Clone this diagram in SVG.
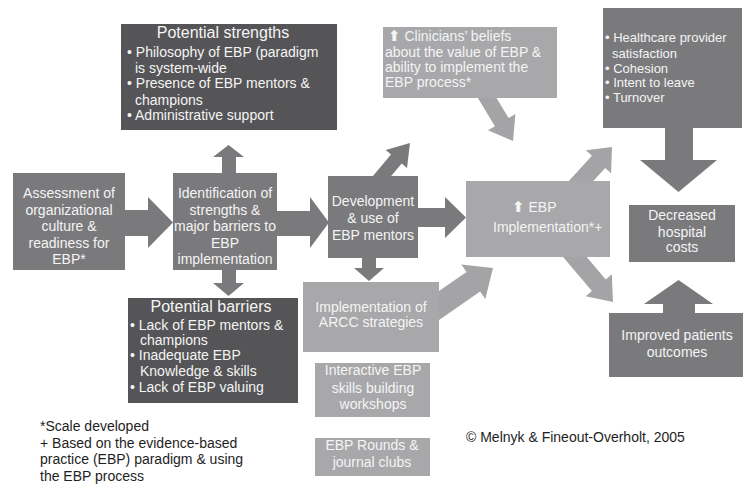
<svg xmlns="http://www.w3.org/2000/svg" width="743" height="486" viewBox="0 0 743 486">
<style>
  .dark{fill:#555557}
  .mid{fill:#7a7a7c}
  .light{fill:#a8a8aa}
  .amid{fill:#7a7a7c}
  .alight{fill:#a4a4a6}
  text{font-family:"Liberation Sans",Arial,sans-serif;font-size:14px;fill:#f4f4f4}
  .c{text-anchor:middle}
  .t{font-size:16px}
  .s{font-size:13px}
  .k{fill:#1e1e1e}
  .ic{font-family:"DejaVu Sans",sans-serif;font-size:15px;font-weight:bold}
</style>
<rect width="743" height="486" fill="#ffffff"/>
<g id="connectors">
  <polygon class="amid" points="120,210 148,210 148,197 173,222.5 148,248 148,236 120,236"/>
  <polygon class="amid" points="272,211 310,211 310,197 329,222.5 310,248 310,236 272,236"/>
  <polygon class="amid" points="222,178 222,157 213,157 228.5,145 244,157 236,157 236,178"/>
  <polygon class="amid" points="222,265 222,283 213,283 228.5,296 244,283 236,283 236,265"/>
  <polygon class="amid" points="414,208 445,208 445,197 466,217.5 445,238 445,227 414,227"/>
  <polygon class="amid" points="362,254 362,268 354,268 369,281 384,268 376,268 376,254"/>
  <polygon class="amid" points="665,125 665,160 640,160 678.5,192 717,160 693,160 693,125"/>
  <polygon class="amid" points="663,316 663,304 644,304 678.5,280 713,304 695,304 695,316"/>
  <polygon class="amid" points="382.3,186.6 401.7,163.5 407,168.1 410,143 385.7,149.9 391,154.4 371.7,177.5"/>
  <polygon class="alight" points="489.9,86.9 508.6,118 515.4,113.9 513,141 488,130.3 494.9,126.2 476.1,95.1"/>
  <polygon class="alight" points="430.9,325.7 480.1,291.5 485.3,298.9 493,268 461.3,264.5 466.5,271.9 417.3,306.1"/>
  <polygon class="alight" points="579.5,196 605.2,167.9 611.1,173.3 612,147 585.9,150.3 591.9,155.7 566.3,183.8"/>
  <polygon class="alight" points="573.4,241.2 605.7,279.4 611.8,274.2 613,302 585.8,296.2 591.9,291 559.6,252.9"/>
</g>
<g id="n-strengths">
  <rect class="dark" x="121" y="24" width="216" height="106"/>
  <text class="c t" x="223" y="38">Potential strengths</text>
  <text x="127" y="57">• Philosophy of EBP (paradigm</text>
  <text x="135" y="73">is system-wide</text>
  <text x="127" y="88">• Presence of EBP mentors &amp;</text>
  <text x="135" y="105">champions</text>
  <text x="127" y="120">• Administrative support</text>
</g>
<g id="n-barriers">
  <rect class="dark" x="128" y="298" width="170" height="105"/>
  <text class="c t" x="211" y="312">Potential barriers</text>
  <text x="130" y="330">• Lack of EBP mentors &amp;</text>
  <text x="140" y="345">champions</text>
  <text x="130" y="360">• Inadequate EBP</text>
  <text x="140" y="376">Knowledge &amp; skills</text>
  <text x="130" y="392">• Lack of EBP valuing</text>
</g>
<g id="n-assessment">
  <rect class="mid" x="13" y="173" width="112" height="97"/>
  <text class="c" x="69" y="198">Assessment of</text>
  <text class="c" x="69" y="215">organizational</text>
  <text class="c" x="69" y="231">culture &amp;</text>
  <text class="c" x="69" y="248">readiness for</text>
  <text class="c" x="69" y="264">EBP*</text>
</g>
<g id="n-identification">
  <rect class="mid" x="173" y="173" width="104" height="97"/>
  <text class="c" x="225" y="198">Identification of</text>
  <text class="c" x="225" y="215">strengths &amp;</text>
  <text class="c" x="225" y="231">major barriers to</text>
  <text class="c" x="225" y="248">EBP</text>
  <text class="c" x="225" y="264">implementation</text>
</g>
<g id="n-development">
  <rect class="mid" x="328" y="176" width="90" height="82"/>
  <text class="c" x="373" y="206">Development</text>
  <text class="c" x="373" y="223">&amp; use of</text>
  <text class="c" x="373" y="240">EBP mentors</text>
</g>
<g id="n-clinicians">
  <rect class="light" x="383" y="27" width="174" height="71"/>
  <text x="388" y="41"><tspan class="ic">⬆</tspan> Clinicians’ beliefs</text>
  <text x="385" y="57">about the value of EBP &amp;</text>
  <text x="385" y="72">ability to implement the</text>
  <text x="385" y="87">EBP process*</text>
</g>
<g id="n-implementation">
  <rect class="light" x="466" y="181" width="144" height="76"/>
  <text x="512" y="212"><tspan class="ic">⬆</tspan> EBP</text>
  <text x="493" y="232">Implementation*+</text>
</g>
<g id="n-arcc">
  <rect class="light" x="303" y="282" width="136" height="70"/>
  <text class="c" x="371" y="312">Implementation of</text>
  <text class="c" x="371" y="327">ARCC strategies</text>
</g>
<g id="n-workshops">
  <rect class="light" x="315" y="363" width="115" height="54"/>
  <text class="c" x="373" y="375">Interactive EBP</text>
  <text class="c" x="373" y="393">skills building</text>
  <text class="c" x="373" y="409">workshops</text>
</g>
<g id="n-rounds">
  <rect class="light" x="315" y="438" width="115" height="38"/>
  <text class="c" x="372" y="450">EBP Rounds &amp;</text>
  <text class="c" x="372" y="467">journal clubs</text>
</g>
<g id="n-provider">
  <rect class="mid" x="603" y="8" width="139" height="120"/>
  <text class="s" x="605" y="42">• Healthcare provider</text>
  <text class="s" x="612" y="58">satisfaction</text>
  <text class="s" x="605" y="73">• Cohesion</text>
  <text class="s" x="605" y="87">• Intent to leave</text>
  <text class="s" x="605" y="102">• Turnover</text>
</g>
<g id="n-costs">
  <rect class="mid" x="629" y="205" width="106" height="57"/>
  <text class="c" x="682" y="220">Decreased</text>
  <text class="c" x="682" y="237">hospital</text>
  <text class="c" x="682" y="252">costs</text>
</g>
<g id="n-outcomes">
  <rect class="mid" x="609" y="313" width="134" height="64"/>
  <text class="c" x="677" y="340">Improved patients</text>
  <text class="c" x="677" y="357">outcomes</text>
</g>
<g id="notes">
  <text class="k" x="40" y="431">*Scale developed</text>
  <text class="k" x="40" y="448">+ Based on the evidence-based</text>
  <text class="k" x="40" y="464">practice (EBP) paradigm &amp; using</text>
  <text class="k" x="40" y="481">the EBP process</text>
  <text class="k" x="466" y="442">© Melnyk &amp; Fineout-Overholt, 2005</text>
</g>
</svg>
